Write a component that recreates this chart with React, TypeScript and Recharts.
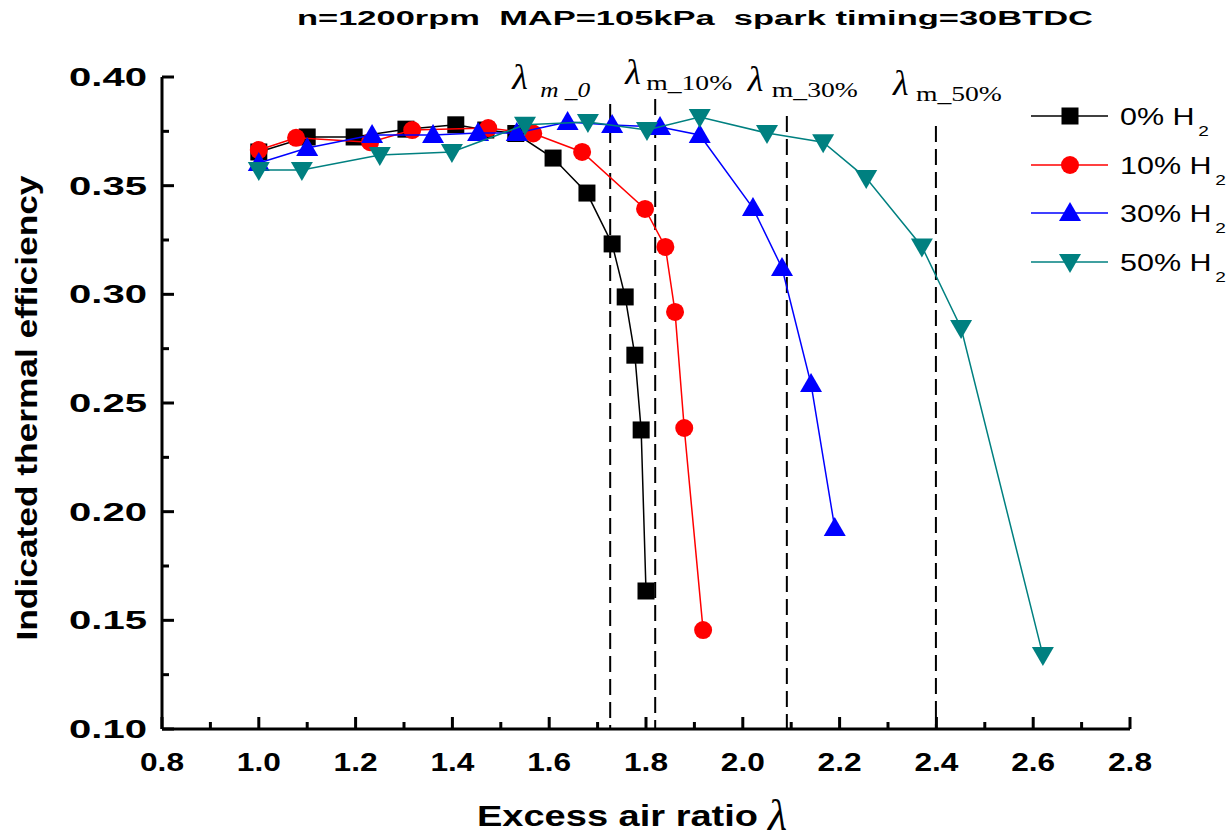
import React from "react";
import { ComposedChart, ReferenceLine, Scatter, XAxis, YAxis } from "recharts";

// excess air ratio / indicated thermal efficiency
const h2Labels = ["0% H", "10% H", "30% H", "50% H"];

const lambda0 = [1.0, 1.1, 1.197, 1.304, 1.407, 1.469, 1.531, 1.608, 1.678, 1.73, 1.757, 1.777, 1.79, 1.8];
const eta0 = [0.3655, 0.3724, 0.3724, 0.376, 0.378, 0.3756, 0.374, 0.3627, 0.3466, 0.3232, 0.2988, 0.272, 0.2376, 0.1635];

const lambda10 = [1.0, 1.077, 1.23, 1.317, 1.474, 1.567, 1.668, 1.798, 1.84, 1.86, 1.879, 1.918];
const eta10 = [0.3664, 0.372, 0.37, 0.3756, 0.3765, 0.374, 0.3655, 0.3393, 0.3218, 0.2919, 0.2385, 0.1455];

const lambda30 = [1.0, 1.1, 1.234, 1.36, 1.453, 1.533, 1.638, 1.73, 1.829, 1.911, 2.021, 2.081, 2.141, 2.19];
const eta30 = [0.3604, 0.3673, 0.3733, 0.3733, 0.3742, 0.3742, 0.3793, 0.3779, 0.377, 0.3733, 0.3397, 0.3121, 0.2587, 0.1925];

const lambda50 = [1.0, 1.089, 1.25, 1.399, 1.55, 1.68, 1.802, 1.911, 2.05, 2.166, 2.255, 2.37, 2.451, 2.62];
const eta50 = [0.3572, 0.3572, 0.3641, 0.3655, 0.378, 0.3793, 0.3756, 0.3816, 0.3742, 0.37, 0.3535, 0.322, 0.2845, 0.134];

// lean limits
const limitLambda = [1.726, 1.819, 2.091, 2.399];
const limitTop = [0.3876, 0.3899, 0.3821, 0.3775];
const limitSub = ["m _0", "m_10%", "m_30%", "m_50%"];

const xTicks = [0.8, 0.9, 1.0, 1.1, 1.2, 1.3, 1.4, 1.5, 1.6, 1.7, 1.8, 1.9, 2.0, 2.1, 2.2, 2.3, 2.4, 2.5, 2.6, 2.7, 2.8];
const yTicks = [0.1, 0.125, 0.15, 0.175, 0.2, 0.225, 0.25, 0.275, 0.3, 0.325, 0.35, 0.375, 0.4];

const series = [
  { name: h2Labels[0], xs: lambda0, ys: eta0, color: "#000000", kind: "square" },
  { name: h2Labels[1], xs: lambda10, ys: eta10, color: "#ff0000", kind: "circle" },
  { name: h2Labels[2], xs: lambda30, ys: eta30, color: "#0000ff", kind: "up" },
  { name: h2Labels[3], xs: lambda50, ys: eta50, color: "#008080", kind: "down" },
];

const SANS = "'Liberation Sans', Arial, sans-serif";
const SERIF = "'Liberation Serif', 'Times New Roman', serif";

function marker(kind: string, cx: number, cy: number, color: string) {
  if (kind === "square") return <rect x={cx - 8.5} y={cy - 8.5} width={17} height={17} fill={color} />;
  if (kind === "circle") return <circle cx={cx} cy={cy} r={9} fill={color} />;
  if (kind === "up")
    return <polygon points={`${cx},${cy - 11} ${cx - 11},${cy + 8} ${cx + 11},${cy + 8}`} fill={color} />;
  return <polygon points={`${cx},${cy + 11} ${cx - 11},${cy - 8} ${cx + 11},${cy - 8}`} fill={color} />;
}

const XTick = (props: any) => {
  const { x, y, payload } = props;
  const v = payload.value as number;
  const major = Math.round(v * 10) % 2 === 0;
  return (
    <g>
      <line x1={x} y1={y} x2={x} y2={y - (major ? 12 : 7)} stroke="#000" strokeWidth={3} />
      {major && (
        <text
          x={x}
          y={y + 42}
          textAnchor="middle"
          fontFamily={SANS}
          fontWeight="bold"
          fontSize={26}
          textLength={44}
          lengthAdjust="spacingAndGlyphs"
          fill="#000"
        >
          {v.toFixed(1)}
        </text>
      )}
    </g>
  );
};

const YTick = (props: any) => {
  const { x, y, payload } = props;
  const v = payload.value as number;
  const major = Math.round(v * 40) % 2 === 0;
  return (
    <g>
      <line x1={x} y1={y} x2={x + (major ? 12 : 7)} y2={y} stroke="#000" strokeWidth={3} />
      {major && (
        <text
          x={x - 15}
          y={y + 9}
          textAnchor="end"
          fontFamily={SANS}
          fontWeight="bold"
          fontSize={25}
          textLength={78}
          lengthAdjust="spacingAndGlyphs"
          fill="#000"
        >
          {v.toFixed(2)}
        </text>
      )}
    </g>
  );
};

// label offsets relative to the top of each dashed line
const limitLabelPos = [
  { lx: -98, ly: -15, sx: -70, sy: -7, italic: true },
  { lx: -30, ly: -15, sx: -9, sy: -9, italic: false },
  { lx: -39, ly: -25, sx: -15, sy: -19, italic: false },
  { lx: -43, ly: -31, sx: -20, sy: -25, italic: false },
];

const LimitLabel = (props: any) => {
  const { viewBox, idx } = props;
  const p = limitLabelPos[idx];
  const x = viewBox.x;
  const y = viewBox.y;
  return (
    <g>
      <text x={x + p.lx} y={y + p.ly} fontFamily={SERIF} fontStyle="italic" fontSize={36} fill="#000">
        λ
      </text>
      <text
        x={x + p.sx}
        y={y + p.sy}
        fontFamily={SERIF}
        fontStyle={p.italic ? "italic" : "normal"}
        fontSize={20}
        textLength={p.italic ? 50 : 86}
        lengthAdjust="spacingAndGlyphs"
        style={{ whiteSpace: "pre" }}
        fill="#000"
      >
        {limitSub[idx]}
      </text>
    </g>
  );
};

const legendRows = [116, 165, 213, 262];

export default function App() {
  return (
    <div style={{ position: "absolute", left: 0, top: 0, width: 1231, height: 839, background: "#fff" }}>
      <ComposedChart width={1231} height={839} margin={{ top: 77, right: 101, bottom: 70, left: 62 }}>
        <XAxis
          type="number"
          dataKey="x"
          domain={[0.8, 2.8]}
          ticks={xTicks}
          interval={0}
          tickSize={0}
          tickMargin={0}
          tickLine={false}
          tick={<XTick />}
          axisLine={{ stroke: "#000", strokeWidth: 3 }}
          height={40}
        />
        <YAxis
          type="number"
          dataKey="y"
          domain={[0.1, 0.4]}
          ticks={yTicks}
          interval={0}
          tickSize={0}
          tickMargin={0}
          tickLine={false}
          tick={<YTick />}
          axisLine={{ stroke: "#000", strokeWidth: 3 }}
          width={100}
        />
        {series.map((s) => (
          <Scatter
            key={s.name}
            name={s.name}
            data={s.xs.map((x, i) => ({ x, y: s.ys[i] }))}
            line={{ stroke: s.color, strokeWidth: 1.5 }}
            lineType="joint"
            shape={(p: any) => marker(s.kind, p.cx, p.cy, s.color)}
            isAnimationActive={false}
          />
        ))}
        {limitLambda.map((l, i) => (
          <ReferenceLine
            key={l}
            segment={[
              { x: l, y: limitTop[i] },
              { x: l, y: 0.1 },
            ]}
            stroke="#000"
            strokeWidth={2}
            strokeDasharray="16 7"
            label={<LimitLabel idx={i} />}
          />
        ))}
      </ComposedChart>
      <svg width={1231} height={839} style={{ position: "absolute", left: 0, top: 0, pointerEvents: "none" }}>
        <text
          x={297}
          y={25}
          fontFamily={SANS}
          fontWeight="bold"
          fontSize={20}
          textLength={796}
          lengthAdjust="spacingAndGlyphs"
          style={{ whiteSpace: "pre" }}
          fill="#000"
        >
          n=1200rpm  MAP=105kPa  spark timing=30BTDC
        </text>
        <text
          transform="translate(37,408) rotate(-90)"
          textAnchor="middle"
          fontFamily={SANS}
          fontWeight="bold"
          fontSize={29}
          textLength={465}
          lengthAdjust="spacingAndGlyphs"
          fill="#000"
        >
          Indicated thermal efficiency
        </text>
        <text
          x={477}
          y={826}
          fontFamily={SANS}
          fontWeight="bold"
          fontSize={30}
          textLength={281}
          lengthAdjust="spacingAndGlyphs"
          fill="#000"
        >
          Excess air ratio
        </text>
        <text x={768} y={830} fontFamily={SERIF} fontStyle="italic" fontSize={44} fill="#000">
          λ
        </text>
        {series.map((s, i) => {
          const y = legendRows[i];
          return (
            <g key={s.name}>
              <line x1={1031} y1={y} x2={1108} y2={y} stroke={s.color} strokeWidth={1.5} />
              {marker(s.kind, 1070, y, s.color)}
              <g transform={`translate(1120,${y + 9}) scale(1.27,1)`}>
                <text x={0} y={0} fontFamily={SANS} fontSize={24} fill="#000">
                  {s.name}
                  <tspan dx={3} dy={11} fontSize={15}>
                    2
                  </tspan>
                </text>
              </g>
            </g>
          );
        })}
      </svg>
    </div>
  );
}
